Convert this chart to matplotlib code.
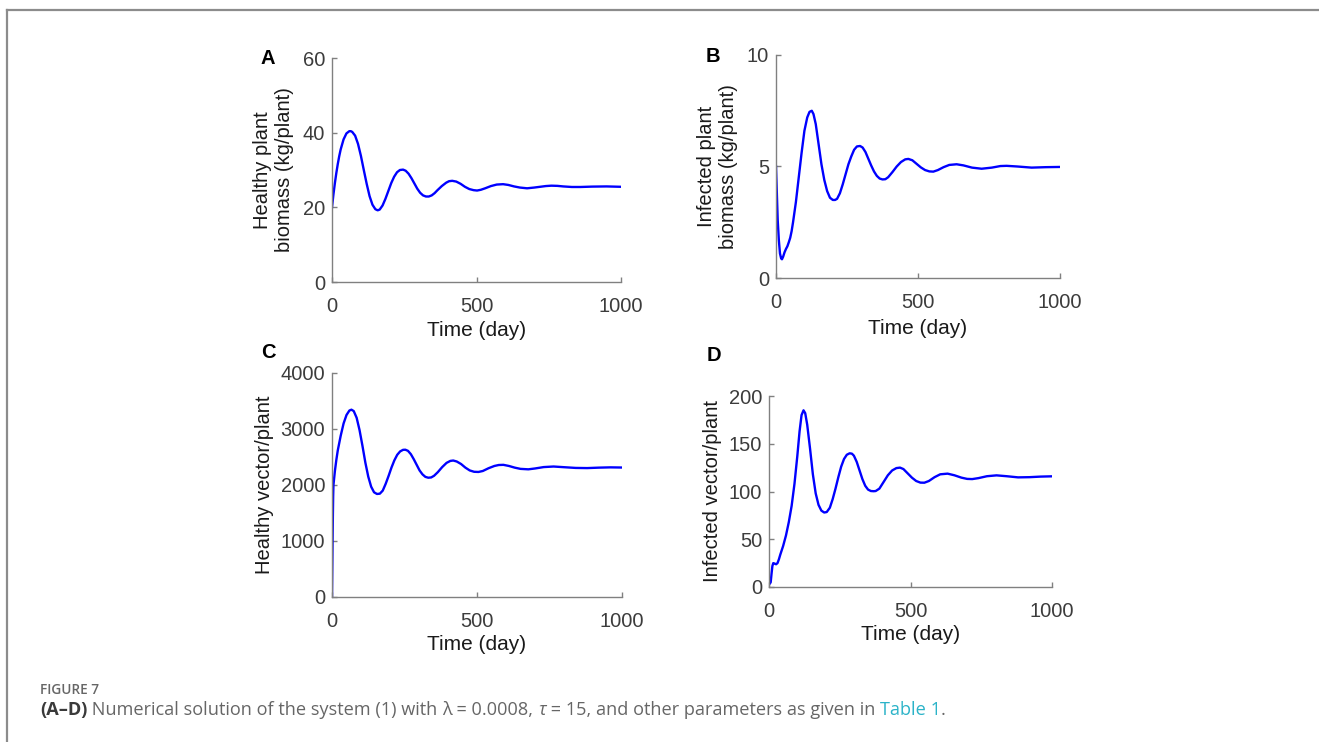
import matplotlib
matplotlib.use("Agg")
import matplotlib.pyplot as plt
from matplotlib.lines import Line2D

# ---------------- data ----------------
tA = [0, 5, 10, 15, 20, 25, 30, 40, 50, 60, 65, 70, 80, 90, 100, 110, 120, 130, 140, 150,
      158, 165, 175, 185, 195, 205, 215, 225, 235, 246, 255, 265, 275, 285, 295, 305, 315,
      325, 335, 345, 355, 365, 380, 395, 405, 416, 430, 445, 460, 475, 490, 502, 515, 530,
      550, 570, 592, 610, 630, 650, 675, 700, 720, 740, 759, 780, 800, 830, 860, 900, 950, 1000]
healthy_plant = [20.0, 23.5, 26.5, 29.2, 31.6, 33.7, 35.5, 38.2, 39.8, 40.4, 40.4, 40.2, 39.2,
                 37.0, 33.8, 30.0, 26.3, 23.0, 20.7, 19.5, 19.2, 19.4, 20.5, 22.3, 24.4, 26.5,
                 28.2, 29.4, 30.0, 30.1, 29.8, 29.0, 27.8, 26.4, 25.0, 23.9, 23.2, 22.9, 22.9,
                 23.2, 23.8, 24.6, 25.7, 26.6, 27.0, 27.1, 26.9, 26.3, 25.5, 24.9, 24.6, 24.5,
                 24.7, 25.1, 25.7, 26.1, 26.2, 26.0, 25.6, 25.3, 25.1, 25.3, 25.5, 25.7, 25.8,
                 25.75, 25.6, 25.45, 25.45, 25.55, 25.6, 25.5]

tB = [0, 3, 6, 10, 14, 18, 21, 25, 30, 35, 40, 45, 50, 55, 60, 70, 80, 90, 100, 110, 118, 126,
      132, 140, 150, 160, 170, 180, 190, 200, 208, 215, 225, 235, 245, 255, 265, 275, 285, 296,
      305, 315, 325, 335, 345, 355, 365, 375, 385, 395, 410, 425, 440, 455, 466, 480, 495, 510,
      525, 540, 554, 570, 590, 610, 636, 660, 690, 724, 760, 790, 812, 850, 900, 950, 1000]
infected_plant = [5.0, 3.8, 2.6, 1.7, 1.1, 0.88, 0.84, 0.95, 1.15, 1.3, 1.42, 1.6, 1.8, 2.1,
                  2.5, 3.4, 4.5, 5.6, 6.6, 7.2, 7.45, 7.5, 7.35, 6.9, 6.0, 5.1, 4.4, 3.9, 3.6,
                  3.5, 3.5, 3.55, 3.8, 4.2, 4.65, 5.1, 5.45, 5.75, 5.9, 5.92, 5.85, 5.65, 5.35,
                  5.05, 4.78, 4.58, 4.46, 4.42, 4.43, 4.52, 4.75, 5.0, 5.2, 5.32, 5.34, 5.28,
                  5.12, 4.96, 4.84, 4.78, 4.77, 4.84, 4.97, 5.07, 5.1, 5.05, 4.95, 4.9, 4.95,
                  5.02, 5.03, 5.0, 4.95, 4.97, 4.98]

tC = [0, 1, 2, 3, 4, 5, 7, 10, 15, 20, 30, 40, 50, 60, 67, 75, 85, 95, 105, 115, 125, 135, 145,
      155, 165, 175, 185, 195, 205, 215, 225, 235, 245, 253, 262, 272, 282, 292, 302, 312, 322,
      332, 342, 352, 365, 380, 395, 408, 418, 430, 445, 460, 475, 490, 505, 520, 540, 560, 575,
      591, 610, 630, 650, 677, 700, 730, 764, 800, 840, 880, 920, 960, 1000]
healthy_vector = [0, 500, 1000, 1450, 1800, 2000, 2100, 2250, 2450, 2620, 2880, 3100, 3250, 3330,
                  3345, 3320, 3200, 2980, 2700, 2400, 2150, 1970, 1870, 1840, 1845, 1900, 2020,
                  2160, 2310, 2440, 2540, 2600, 2628, 2630, 2610, 2550, 2460, 2360, 2260, 2190,
                  2145, 2130, 2135, 2165, 2230, 2320, 2395, 2430, 2437, 2420, 2375, 2310, 2260,
                  2236, 2233, 2250, 2300, 2340, 2357, 2360, 2340, 2310, 2288, 2280, 2295, 2320,
                  2330, 2318, 2305, 2302, 2310, 2315, 2312]

tD = [0, 3, 6, 9, 12, 15, 20, 25, 30, 35, 40, 50, 60, 70, 80, 90, 100, 108, 115, 122, 128, 135,
      145, 155, 165, 175, 185, 195, 204, 215, 225, 235, 245, 255, 265, 275, 285, 293, 300, 310,
      320, 330, 340, 350, 360, 370, 377, 390, 405, 420, 435, 450, 463, 475, 490, 505, 520, 535,
      549, 565, 585, 605, 631, 655, 680, 700, 718, 740, 770, 804, 840, 880, 920, 960, 1000]
infected_vector = [4.5, 3.5, 5, 14, 22, 25, 24.5, 23.8, 25, 29, 34, 43, 54, 68, 85, 108, 137, 163,
                   180, 185, 182, 170, 145, 118, 98, 86, 80, 78, 78.5, 83, 92, 103, 115, 126, 134,
                   138.5, 140, 139.6, 137.5, 131, 122, 113, 106, 102, 100.5, 100.3, 100.5, 103,
                   110, 117, 122, 124.5, 125, 123.5, 119, 114.5, 111, 109.3, 109.2, 111, 115, 118,
                   118.7, 117, 114.5, 113.2, 113, 114, 116, 116.9, 116, 114.8, 115, 115.6, 115.9]

panel_letters = ["A", "B", "C", "D"]
ylabels = ["Healthy plant\nbiomass (kg/plant)", "Infected plant\nbiomass (kg/plant)",
           "Healthy vector/plant", "Infected vector/plant"]
xlabel = "Time (day)"
xticks = [0, 500, 1000]
yticks_list = [[0, 20, 40, 60], [0, 5, 10], [0, 1000, 2000, 3000, 4000], [0, 50, 100, 150, 200]]
caption_title = "FIGURE 7"

# ---------------- layout ----------------
W, H = 1319, 742
fig = plt.figure(figsize=(W / 100, H / 100), dpi=100)
plt.rcParams['font.family'] = ['Liberation Sans', 'DejaVu Sans']

def px_axes(x0, y0, x1, y1):
    return fig.add_axes([x0 / W, 1 - y1 / H, (x1 - x0) / W, (y1 - y0) / H])

boxes = [(332, 58, 621, 282), (776, 55, 1060, 278), (332, 373, 622, 597), (769, 396, 1052, 587)]
series = [(tA, healthy_plant), (tB, infected_plant), (tC, healthy_vector), (tD, infected_vector)]
ylab_xpx = [273, 717, 265, 712]
xlab_ypx = [330, 328, 645, 634]
letter_pos = [(268, 58), (713, 57), (268, 353), (714, 355)]

spine_col = '#808080'
tick_col = '#3c3c3c'
for i, (b, (t, v)) in enumerate(zip(boxes, series)):
    ax = px_axes(*b)
    ax.plot(t, v, color='#0000ff', lw=1.7, solid_joinstyle='round')
    ax.set_xlim(0, 1000)
    yt = yticks_list[i]
    ax.set_ylim(yt[0], yt[-1])
    ax.set_xticks(xticks)
    ax.set_yticks(yt)
    for s in ['top', 'right']:
        ax.spines[s].set_visible(False)
    for s in ['left', 'bottom']:
        ax.spines[s].set_color(spine_col)
        ax.spines[s].set_linewidth(1.0)
    ax.tick_params(direction='in', length=3.5, width=1.0, color=spine_col,
                   labelcolor=tick_col, labelsize=14.5)
    ax.tick_params(axis='x', pad=11)
    ax.tick_params(axis='y', pad=5)
    x0, y0, x1, y1 = b
    ax.set_ylabel(ylabels[i], fontsize=14.5, color='#1a1a1a', linespacing=1.2)
    ax.yaxis.label.set_va('center')
    ax.yaxis.set_label_coords((ylab_xpx[i] - x0) / (x1 - x0), 0.5)
    ax.set_xlabel(xlabel, fontsize=15, color='#1a1a1a')
    ax.xaxis.label.set_va('center')
    ax.xaxis.set_label_coords(0.5, -(xlab_ypx[i] - y1) / (y1 - y0))
    ax.patch.set_alpha(0)
    lx, ly = letter_pos[i]
    fig.text(lx / W, 1 - ly / H, panel_letters[i], fontsize=14.5, fontweight='bold',
             ha='center', va='center', color='black')

# frame lines (top and left edge of the figure box)
fig.add_artist(Line2D([6.5 / W, 6.5 / W], [0, 1 - 10 / H], color='#8c8c8c', lw=1.6,
                      transform=fig.transFigure))
fig.add_artist(Line2D([6.5 / W, 1.0], [1 - 10 / H, 1 - 10 / H], color='#8c8c8c', lw=1.6,
                      transform=fig.transFigure))

# caption
cap_font = ['Open Sans', 'DejaVu Sans']
fig.text(40 / W, 1 - 690 / H, caption_title, fontsize=9.8, fontweight='semibold', color='#666666',
         family=cap_font, va='center', ha='left')

pieces = [("(A\u2013D)", '#3a3a3a', 'bold'),
          (" Numerical solution of the system (1) with ", '#666666', 'normal'),
          ("\u03bb = 0.0008, ", '#666666', 'normal'),
          ("\u03c4", '#666666', 'normal'),
          (" = 15, and other parameters as given in ", '#666666', 'normal'),
          ("Table 1", '#2bb3c8', 'normal'),
          (".", '#666666', 'normal')]
fig.canvas.draw()
renderer = fig.canvas.get_renderer()

def measure(fs):
    tot = 0
    for txt, col, wt in pieces:
        style = 'italic' if txt == "\u03c4" else 'normal'
        tt = fig.text(0, 0, txt, fontsize=fs, fontweight=wt, family=cap_font, fontstyle=style)
        tot += tt.get_window_extent(renderer).width
        tt.remove()
    return tot

target = 948 - 40
fs = 11.5
fs = fs * target / measure(fs)
x = 40.0
for txt, col, wt in pieces:
    style = 'italic' if txt == "\u03c4" else 'normal'
    tobj = fig.text(x / W, 1 - 710 / H, txt, fontsize=fs, color=col, fontweight=wt,
                    family=cap_font, va='center', ha='left', fontstyle=style)
    bb = tobj.get_window_extent(renderer)
    x += bb.width

fig.savefig("out.png", dpi=100)
